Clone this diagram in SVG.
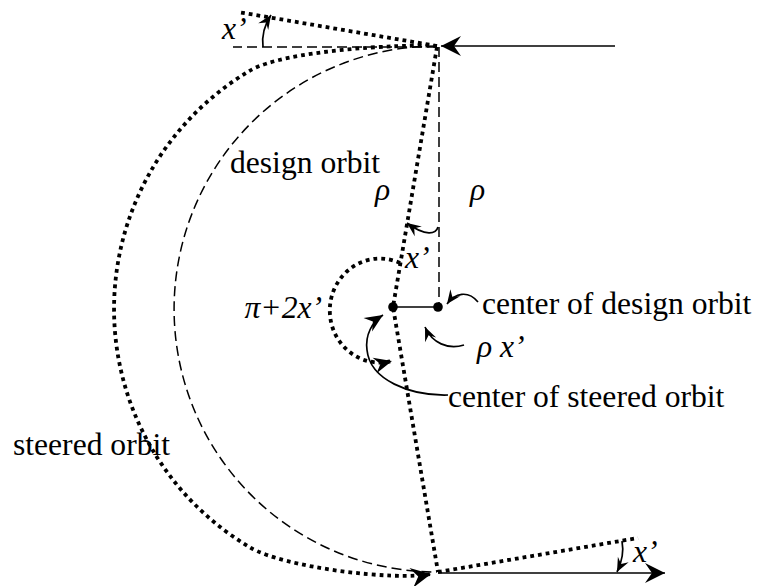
<svg xmlns="http://www.w3.org/2000/svg" width="757" height="586" viewBox="0 0 757 586">
<style>
text{font-family:"Liberation Serif","Times New Roman",serif;font-size:31.6px;fill:#000}
.it{font-style:italic}
.dot{fill:none;stroke:#000;stroke-width:3.8;stroke-dasharray:3.8 4}
.dash{fill:none;stroke:#000;stroke-width:1.5;stroke-dasharray:10 5}
.sol{fill:none;stroke:#000;stroke-width:1.7}
</style>
<defs>
<marker id="big" markerUnits="userSpaceOnUse" markerWidth="24" markerHeight="24" viewBox="-22 -12 24 24" refX="0" refY="0" orient="auto" overflow="visible">
<path d="M0,0 L-20,-10 L-13,0 L-20,10 Z" fill="#000"/>
</marker>
<marker id="mid" markerUnits="userSpaceOnUse" markerWidth="20" markerHeight="20" viewBox="-20 -10 20 20" refX="0" refY="0" orient="auto" overflow="visible">
<path d="M0,0 L-18,-8 L-12,0 L-18,8 Z" fill="#000"/>
</marker>
<marker id="small" markerUnits="userSpaceOnUse" markerWidth="16" markerHeight="16" viewBox="-16 -8 16 16" refX="0" refY="0" orient="auto" overflow="visible">
<path d="M0,0 L-14,-6 L-9,0 L-14,6 Z" fill="#000"/>
</marker>
</defs>
<rect width="757" height="586" fill="#fff"/>
<g id="connectors">
<path class="sol" d="M615,46 L441,46" marker-end="url(#big)"/>
<path class="sol" d="M438,573 L665,573" stroke-width="2" marker-end="url(#big)"/>
<path class="dash" d="M437,46 A263,263 0 0,0 437,572"/>
<path class="dash" d="M439,47 L439,307"/>
<path class="dash" d="M437,47 L233,47"/>
<path class="dot" d="M437,46 C400,44 284.4,50.2 250,70.6 A277,277 0 0,0 250,547.4 C284.4,567.8 395,581 431,574" marker-end="url(#big)"/>
<path class="dot" d="M437,46 L238,12"/>
<path class="dot" d="M438,572 L638,538"/>
<path class="dot" d="M437,47 L393,307 L438,572"/>
<path class="sol" d="M393,307 L438,307"/>
<path class="dot" d="M400,263 A50,52 0 1,0 392,361" marker-end="url(#mid)"/>
<path class="sol" d="M263,47 Q261,30 271,15" marker-end="url(#small)"/>
<path class="sol" d="M438,227 C436,234 426,237 407,223" marker-end="url(#small)"/>
<path class="sol" d="M622,541 C624,552 622,562 617,572" marker-end="url(#small)"/>
<path class="sol" d="M478,302 C468,290 455,293 447,304" marker-end="url(#small)"/>
<path class="sol" d="M464,345 C448,350 432,343 425,327" marker-end="url(#small)"/>
<path class="sol" d="M448,395 C410,396 370,380 367,350 C365,335 372,322 383,315" marker-end="url(#mid)"/>
</g>
<g id="center-steered"><circle cx="393" cy="307" r="4.8" fill="#000"/></g>
<g id="center-design"><circle cx="438" cy="307" r="4.8" fill="#000"/></g>
<g id="labels">
<text x="230" y="173">design orbit</text>
<text x="482" y="314">center of design orbit</text>
<text x="448" y="407">center of steered orbit</text>
<text x="13" y="455">steered orbit</text>
<text class="it" x="375" y="200">ρ</text>
<text class="it" x="470" y="200">ρ</text>
<text class="it" x="405" y="268">x’</text>
<text class="it" x="322" y="318" text-anchor="end">π+2x’</text>
<text class="it" x="477" y="357">ρ x’</text>
<text class="it" x="222" y="39">x’</text>
<text class="it" x="633" y="562">x’</text>
</g>
</svg>
